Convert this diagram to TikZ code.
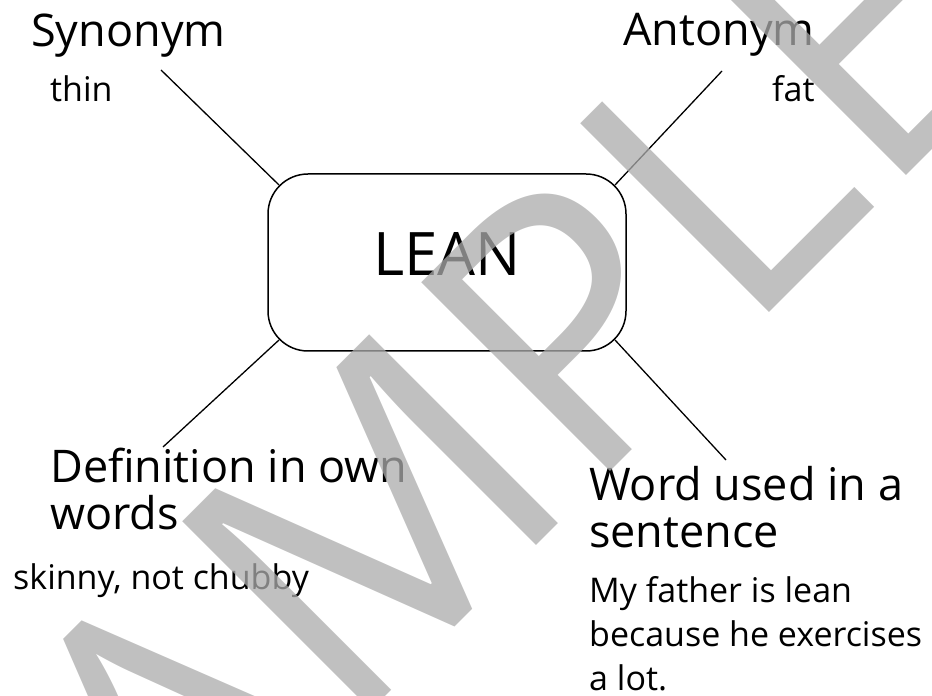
\documentclass[tikz,border=0pt]{standalone}
\usepackage{fontspec}
\setmainfont{Open Sans}
\usepackage{tikz}
\usetikzlibrary{calc}

\begin{document}
\begin{tikzpicture}[x=1pt,y=1pt]

\tikzset{word box/.style={
		draw,
		line width=1.5pt,
		rounded corners=40pt,
		minimum width=358pt,
		minimum height=177pt,
		inner sep=0pt,
		text depth=16pt,
		font=\fontsize{60}{60}\selectfont
	},
	heading/.style={
		anchor=base west,
		inner sep=0pt,
		align=left,
		font=\fontsize{45}{47}\selectfont
	},
	answer/.style={
		anchor=base west,
		inner sep=0pt,
		align=left,
		font=\fontsize{34}{44}\selectfont
	},
	spoke/.style={line width=1.3pt},
	stamp/.style={
		anchor=base west,
		rotate=45,
		inner sep=0pt,
		text=black!33,
		text opacity=0.75,
		font=\fontsize{374}{374}\selectfont
	}
}
\useasboundingbox (0,0) rectangle (932,696);

\node[word box] (lean) at (447,433.5) {LEAN};

\node[heading] (syn) at (31,649) {Synonym};
\node[answer] (syntxt) at (50,594) {thin};
\node[heading] (ant) at (623,650) {Antonym};
\node[answer] (anttxt) at (772,594) {fat};
% base of a multi-line node = its last line
\node[heading] (def) at (50,166) {Definition in own\\words};
\node[answer] (deftxt) at (13,106) {skinny, not chubby};
\node[heading] (sen) at (589,148) {Word used in a\\sentence};
\node[answer] (sentxt) at (589,5) {My father is lean\\because he exercises\\a lot.};

\coordinate (synend) at (161,626);
\coordinate (antend) at (722,625);
\coordinate (defend) at (163,249);
\coordinate (senend) at (726,236);

\draw[spoke] (synend) -- ($(lean.north west)+(11.7,-11.7)$);
\draw[spoke] (antend) -- ($(lean.north east)+(-11.7,-11.7)$);
\draw[spoke] (defend) -- ($(lean.south west)+(11.7,11.7)$);
\draw[spoke] (senend) -- ($(lean.south east)+(-11.7,11.7)$);

%watermark
\begin{scope}
	\clip (0,0) rectangle (932,696);
	\node[stamp] (wm) at (33,-353) {SAMPLE};
\end{scope}
\end{tikzpicture}
\end{document}
